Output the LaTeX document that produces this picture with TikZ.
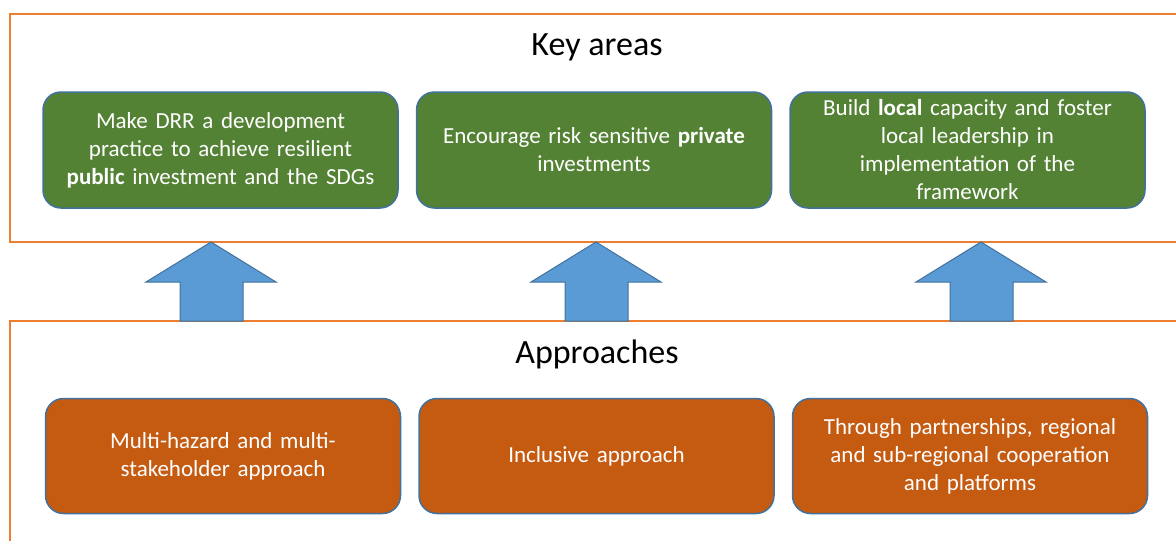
\documentclass[tikz,border=0pt]{standalone}
\usepackage{fontspec}
\setmainfont{Carlito}
\usepackage{tikz}
\usetikzlibrary{positioning}
\definecolor{keyGreen}{HTML}{548235}
\definecolor{appOrange}{HTML}{C55A11}
\definecolor{frameOrange}{HTML}{ED7D31}
\definecolor{arrowBlue}{HTML}{5B9BD5}
\definecolor{edgeBlue}{HTML}{41719C}
\tikzstyle{keyNode} = [rectangle, rounded corners=18pt, minimum width=355pt, minimum height=116pt, text width=340pt, inner sep=0pt, align=center, fill=keyGreen, draw=edgeBlue, line width=1.5pt, text=white, font=\fontsize{23}{28}\selectfont]
\tikzstyle{approachNode} = [keyNode, fill=appOrange, minimum height=115pt]
\tikzstyle{titleNode} = [inner sep=0pt, font=\fontsize{34}{40}\selectfont]
\tikzstyle{frameBox} = [draw=frameOrange, line width=2pt]
\tikzstyle{upArrow} = [fill=arrowBlue, draw=edgeBlue, line width=1pt]

\begin{document}
\begin{tikzpicture}[x=1pt, y=-1pt]
    \useasboundingbox (0,0) rectangle (1176,541);
    \clip (0,0) rectangle (1176,541);
    % Frames
    \draw [frameBox] (10,14) rectangle (1190,242);
    \draw [frameBox] (10,321) rectangle (1190,570);
    % Key areas
    \node (keyTitle) [titleNode, anchor=base] at (597,55) {Key areas};
    \node (key1) [keyNode] at (220.5,150) {Make DRR a development\\practice to achieve resilient\\\textbf{public} investment and the SDGs};
    \node (key2) [keyNode, right=17pt of key1] {Encourage risk sensitive \textbf{private}\\investments};
    \node (key3) [keyNode, right=17pt of key2] {Build \textbf{local} capacity and foster\\local leadership in\\implementation of the\\framework};
    % Approaches
    \node (appTitle) [titleNode, anchor=base] at (597,363) {Approaches};
    \node (app1) [approachNode] at (223,456) {Multi-hazard and multi-\\stakeholder approach};
    \node (app2) [approachNode, right=17pt of app1] {Inclusive approach};
    \node (app3) [approachNode, right=17pt of app2] {Through partnerships, regional\\and sub-regional cooperation\\and platforms};
    % Block arrows
    \coordinate (tip1) at (211,242);
    \coordinate (tip2) at (596,242);
    \coordinate (tip3) at (981,242);
    \foreach \t in {tip1,tip2,tip3}
        \draw [upArrow] (\t) -- ++(65,40) -- ++(-33,0) -- ++(0,39) -- ++(-63,0) -- ++(0,-39) -- ++(-34,0) -- cycle;
\end{tikzpicture}
\end{document}
